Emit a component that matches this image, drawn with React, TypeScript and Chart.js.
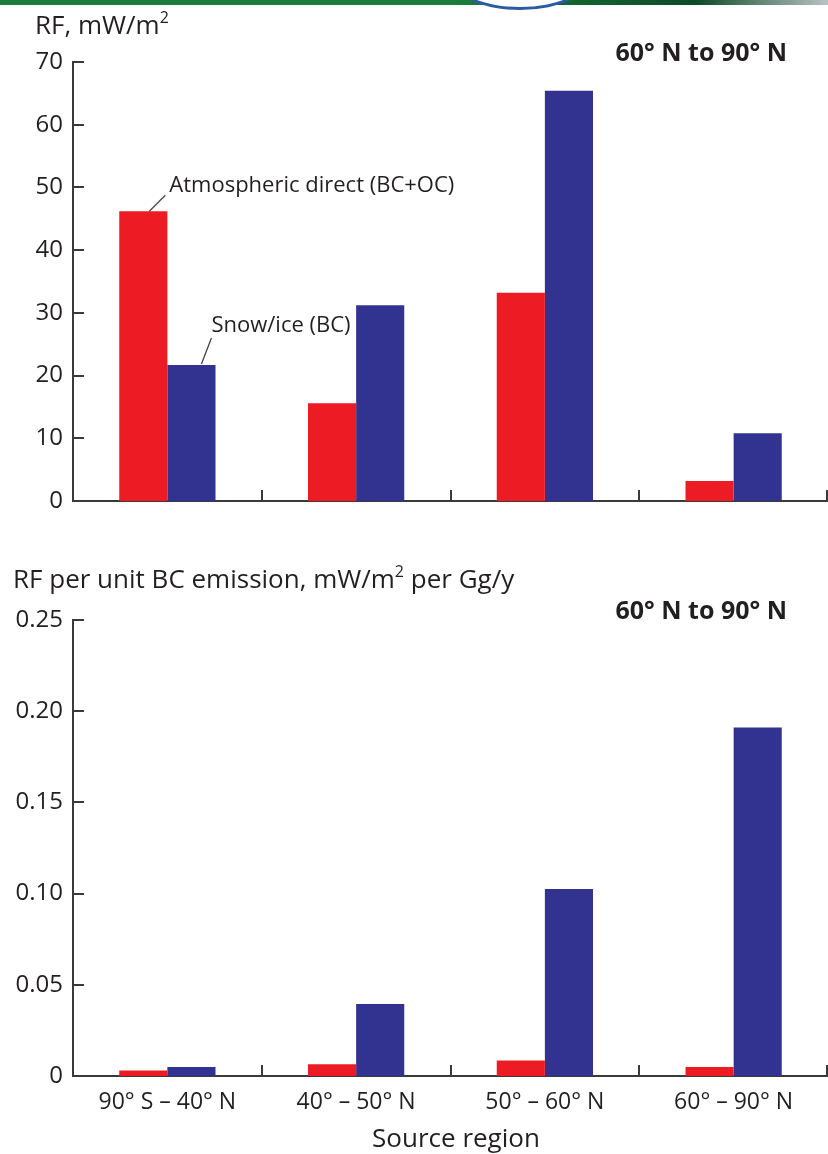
import { useEffect, useRef } from "react";
import { Chart, registerables } from "chart.js";

Chart.register(...registerables);

// Source regions of the black-carbon emissions
const regions = ["90° S – 40° N", "40° – 50° N", "50° – 60° N", "60° – 90° N"];
const seriesNames = ["Atmospheric direct (BC+OC)", "Snow/ice (BC)"];

// Arctic (60° N to 90° N) radiative forcing, mW/m²
const atmosphericRF = [46.2, 15.6, 33.2, 3.2];
const snowIceRF = [21.7, 31.2, 65.4, 10.8];

// Arctic radiative forcing per unit BC emission, mW/m² per Gg/y
const atmosphericPerEmission = [0.003, 0.0065, 0.0085, 0.005];
const snowIcePerEmission = [0.005, 0.0395, 0.1025, 0.191];

const rfTicks = [0, 10, 20, 30, 40, 50, 60, 70];
const rfTickLabels = ["0", "10", "20", "30", "40", "50", "60", "70"];
const perEmissionTicks = [0, 0.05, 0.1, 0.15, 0.2, 0.25];
const perEmissionTickLabels = ["0", "0.05", "0.10", "0.15", "0.20", "0.25"];

const RED = "#ED1C24";
const BLUE = "#323391";
const INK = "#231F20";
const AXIS = "#3a3a3a";
const FONT = "'Open Sans', 'Noto Sans', sans-serif";

// Short inward tick marks on both axes
const inwardTicks = {
  id: "inwardTicks",
  afterDatasetsDraw(chart: any) {
    const { ctx, chartArea: a, scales } = chart;
    const xs = scales.x;
    const ys = scales.y;
    ctx.save();
    ctx.strokeStyle = AXIS;
    ctx.lineWidth = 2;
    ys.ticks.forEach((t: any) => {
      const py = Math.round(ys.getPixelForValue(t.value));
      if (Math.abs(py - a.bottom) < 2) return;
      ctx.beginPath();
      ctx.moveTo(a.left, py);
      ctx.lineTo(a.left + 11, py);
      ctx.stroke();
    });
    const n = xs.ticks.length;
    for (let i = 0; i < n; i++) {
      const px =
        i < n - 1
          ? Math.round((xs.getPixelForValue(i) + xs.getPixelForValue(i + 1)) / 2)
          : a.right - 1;
      ctx.beginPath();
      ctx.moveTo(px, a.bottom);
      ctx.lineTo(px, a.bottom - 11);
      ctx.stroke();
    }
    ctx.restore();
  },
};

// Leader-line labels naming the two series on the first group of bars
const seriesCallouts = {
  id: "seriesCallouts",
  afterDatasetsDraw(chart: any) {
    const { ctx } = chart;
    const red = chart.getDatasetMeta(0).data[0];
    const blue = chart.getDatasetMeta(1).data[0];
    ctx.save();
    ctx.strokeStyle = "#444";
    ctx.lineWidth = 1.3;
    ctx.fillStyle = INK;
    ctx.font = `22px ${FONT}`;
    ctx.textBaseline = "middle";
    ctx.textAlign = "left";

    ctx.beginPath();
    ctx.moveTo(red.x + 6, red.y);
    ctx.lineTo(red.x + 22, red.y - 16);
    ctx.stroke();
    ctx.fillText(seriesNames[0], red.x + 26, red.y - 26);

    ctx.beginPath();
    ctx.moveTo(blue.x + 10, blue.y - 1);
    ctx.lineTo(blue.x + 20, blue.y - 27);
    ctx.stroke();
    ctx.fillText(seriesNames[1], blue.x + 20, blue.y - 39);
    ctx.restore();
  },
};

function makeConfig(
  a: number[],
  b: number[],
  ticks: number[],
  tickLabels: string[],
  topPad: number,
  xHeight: number,
  showX: boolean,
  extraPlugins: any[]
): any {
  return {
    type: "bar",
    data: {
      labels: regions,
      datasets: [
        { label: seriesNames[0], data: a, backgroundColor: RED, borderWidth: 0 },
        { label: seriesNames[1], data: b, backgroundColor: BLUE, borderWidth: 0 },
      ],
    },
    options: {
      responsive: false,
      animation: false,
      layout: { padding: { top: topPad, right: 0, left: 0, bottom: 0 } },
      categoryPercentage: 0.51,
      barPercentage: 1.0,
      plugins: {
        legend: { display: false },
        tooltip: { enabled: false },
        title: { display: false },
      },
      scales: {
        x: {
          type: "category",
          offset: true,
          grid: { display: false, drawTicks: false, offset: true },
          border: { display: true, color: AXIS, width: 2 },
          ticks: {
            display: showX,
            color: INK,
            font: { family: FONT, size: 23 },
            padding: 13,
            maxRotation: 0,
            autoSkip: false,
          },
          afterFit: (s: any) => {
            s.height = xHeight;
          },
        },
        y: {
          min: ticks[0],
          max: ticks[ticks.length - 1],
          grid: { display: false, drawTicks: false },
          border: { display: true, color: AXIS, width: 2 },
          ticks: {
            color: INK,
            font: { family: FONT, size: 24 },
            padding: 10,
            callback: (_v: any, i: number) => tickLabels[i],
          },
          afterBuildTicks: (s: any) => {
            s.ticks = ticks.map((v) => ({ value: v }));
          },
          afterFit: (s: any) => {
            s.width = 73;
          },
        },
      },
    },
    plugins: [inwardTicks, ...extraPlugins],
  };
}

const textBase: any = {
  position: "absolute",
  fontFamily: FONT,
  color: INK,
  lineHeight: 1,
  whiteSpace: "nowrap",
  margin: 0,
};

const sup: any = { fontSize: 16, position: "relative", top: -11, verticalAlign: "baseline" };

export default function App() {
  const topRef = useRef<HTMLCanvasElement>(null);
  const bottomRef = useRef<HTMLCanvasElement>(null);

  useEffect(() => {
    document.body.style.margin = "0";
    const top = new Chart(
      topRef.current as HTMLCanvasElement,
      makeConfig(atmosphericRF, snowIceRF, rfTicks, rfTickLabels, 62, 39, false, [seriesCallouts])
    );
    const bottom = new Chart(
      bottomRef.current as HTMLCanvasElement,
      makeConfig(
        atmosphericPerEmission,
        snowIcePerEmission,
        perEmissionTicks,
        perEmissionTickLabels,
        80,
        78,
        true,
        []
      )
    );
    return () => {
      top.destroy();
      bottom.destroy();
    };
  }, []);

  return (
    <div
      style={{
        position: "relative",
        width: 828,
        height: 1154,
        overflow: "hidden",
        background: "#fff",
      }}
    >
      <div
        style={{
          position: "absolute",
          left: 0,
          top: 0,
          width: 828,
          height: 5,
          background:
            "linear-gradient(to right, #1a7d3a 0%, #1a7d3a 55%, #125f2e 72%, #0d4a26 84%, #b9c3c3 100%)",
        }}
      />
      <div
        style={{
          position: "absolute",
          left: 446,
          top: -64,
          width: 142,
          height: 68,
          borderRadius: "50%",
          background: "#fff",
          border: "3px solid #2c5aa0",
        }}
      />
      <canvas
        ref={topRef}
        width={828}
        height={540}
        style={{ position: "absolute", left: 0, top: 0 }}
      />
      <canvas
        ref={bottomRef}
        width={828}
        height={614}
        style={{ position: "absolute", left: 0, top: 540 }}
      />
      <div style={{ ...textBase, left: 35, top: 11, fontSize: 26 }}>
        RF, mW/m<span style={sup}>2</span>
      </div>
      <div style={{ ...textBase, right: 41, top: 39, fontSize: 25, fontWeight: 700 }}>
        60° N to 90° N
      </div>
      <div style={{ ...textBase, left: 13, top: 565, fontSize: 26 }}>
        RF per unit BC emission, mW/m<span style={sup}>2</span> per Gg/y
      </div>
      <div style={{ ...textBase, right: 41, top: 597, fontSize: 25, fontWeight: 700 }}>
        60° N to 90° N
      </div>
      <div
        style={{
          ...textBase,
          left: 256,
          width: 400,
          top: 1124,
          fontSize: 26,
          textAlign: "center",
        }}
      >
        Source region
      </div>
    </div>
  );
}
